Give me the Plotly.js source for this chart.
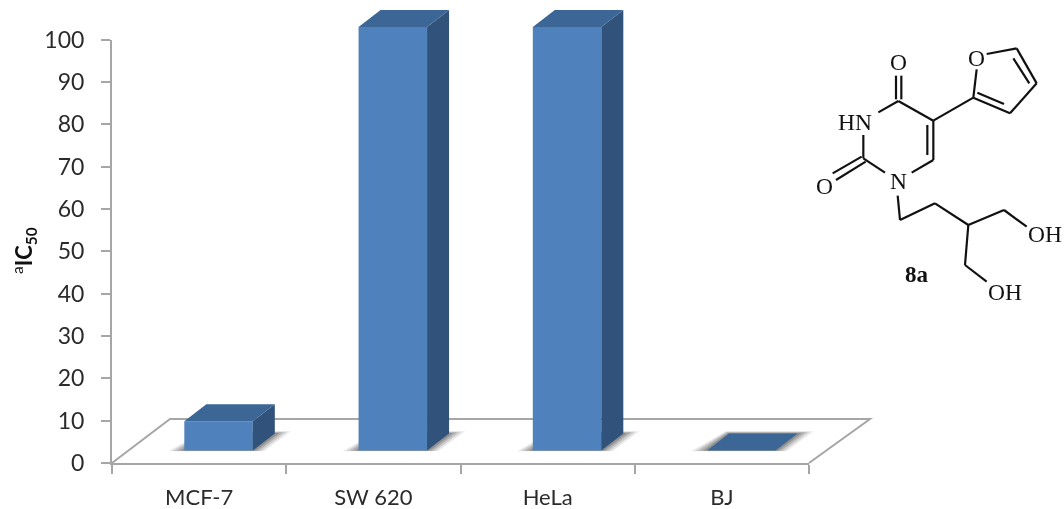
<!DOCTYPE html>
<html>
<head>
<meta charset="utf-8">
<script src="https://cdn.plot.ly/plotly-3.0.1.min.js"></script>
<style>html,body{margin:0;padding:0;background:#fff}#chart{width:1064px;height:509px;filter:blur(0.4px)}</style>
</head>
<body>
<div id="chart"></div>
<script>
// Chart data
const categories = ["MCF-7", "SW 620", "HeLa", "BJ"];
const ic50Values = [6.9, 100, 100, 0];
const yTickValues = [0, 10, 20, 30, 40, 50, 60, 70, 80, 90, 100];

// Page geometry of the axes (px)
const W = 1064, H = 509;
const axL = 112, axR = 809, axB = 463, axT = 39.5;
const pxPerCat = (axR - axL) / categories.length;
const pxPerVal = (axB - axT) / 100;

// Pseudo-3D projection expressed in axis units
const barWidth = 68.5 / pxPerCat, barOffset = -0.085;
const floorLift = 12.5 / pxPerVal;
const depthX = 22 / pxPerCat, depthY = 17 / pxPerVal;
const floorDX = 58 / pxPerCat, floorDY = 44 / pxPerVal;

const frontCol = "#4F81BD", topCol = "#3B6696", sideCol = "#30527B", axisCol = "#A6A6A6";

const shapes = [];
function poly(points, fill, layer) {
  shapes.push({
    type: "path", xref: "x2", yref: "y2", layer: layer || "above",
    path: "M" + points.map(p => p[0] + "," + p[1]).join(" L") + " Z",
    fillcolor: fill, line: { width: 0 }
  });
}

// floor outline
const fx0 = -0.5, fx1 = categories.length - 0.5;
shapes.push({
  type: "path", xref: "x2", yref: "y2", layer: "below",
  path: `M${fx0},0 L${fx0 + floorDX},${floorDY} L${fx1 + floorDX + 3 / pxPerCat},${floorDY} L${fx1},0`,
  line: { color: axisCol, width: 2 }, fillcolor: "rgba(0,0,0,0)"
});

// soft shadows on the floor, then side and top faces
categories.forEach((c, i) => {
  const L = i + barOffset, R = L + barWidth, B = floorLift, T = B + ic50Values[i];
  [[16, 0.12], [12, 0.18], [8, 0.24], [4, 0.32]].forEach(([e, a]) => {
    const ex = e / pxPerCat, ey = (e / 7) / pxPerVal;
    poly([[L - ex, B - ey * 0.3], [R + ex * 0.7, B - ey * 0.3],
          [R + depthX + ex, B + depthY + ey], [L + depthX - ex * 0.2, B + depthY + ey]],
         `rgba(80,80,80,${a})`, "below");
  });
  if (ic50Values[i] > 0) {
    poly([[R, B], [R + depthX, B + depthY], [R + depthX, T + depthY], [R, T]], sideCol);
  }
  poly([[L, T], [R, T], [R + depthX, T + depthY], [L + depthX, T + depthY]], topCol);
});

// Structure of compound 8a (page px)
const px = x => x / W, py = y => 1 - y / H;
const zx = x => 800 + x / 3, zy = y => 30 + y / 3;
const bonds = [
  [288,137,288,208],[304,137,304,208],[295,213,235,247],[295,213,400,272],[400,272,520,203],
  [400,272,400,390],[382,285,382,375],[400,390,335,428],[255,428,190,385],[190,385,190,315],
  [185,380,98,430],[197,395,108,450],[293,497,300,570],[300,570,405,520],[405,520,505,585],
  [505,585,612,540],[612,540,680,590],[505,585,495,705],[495,705,560,755],
  [520,203,530,118],[560,72,650,55],[650,55,710,160],[640,85,688,160],[710,160,630,250],
  [630,250,520,203],[612,222,532,188]
];
bonds.forEach(b => shapes.push({
  type: "line", xref: "paper", yref: "paper", layer: "above",
  x0: px(zx(b[0])), y0: py(zy(b[1])), x1: px(zx(b[2])), y1: py(zy(b[3])),
  line: { color: "#111", width: 2.2 }
}));
const atomLabels = [
  ["O",295,97],["HN",165,275],["O",72,468],["N",295,452],["O",530,85],["OH",735,612],["OH",615,785]
];
const annotations = atomLabels.map(a => ({
  text: a[0], xref: "paper", yref: "paper", x: px(zx(a[1])), y: py(zy(a[2])),
  xanchor: "center", yanchor: "middle", showarrow: false,
  font: { family: "Liberation Serif", size: 23.5, color: "#111" }
}));
annotations.push({
  text: "<b>8a</b>", xref: "paper", yref: "paper", x: px(zx(350)), y: py(zy(733)),
  xanchor: "center", yanchor: "middle", showarrow: false,
  font: { family: "Liberation Serif", size: 23, color: "#111" }
});
annotations.push({
  text: "<sup>a</sup><b>IC<sub>50</sub></b>", xref: "paper", yref: "paper", x: px(24), y: py(251),
  xanchor: "center", yanchor: "middle", textangle: -90, showarrow: false,
  font: { family: "Lato, Carlito, sans-serif", size: 22, color: "#111" }
});

const xTickFont = { family: "Lato, Carlito, sans-serif", size: 22, color: "#2b2b2b" };
const yTickFont = { family: "Lato, Carlito, sans-serif", size: 23, color: "#2b2b2b" };

Plotly.newPlot("chart", [
  { // carries the category axis
    type: "scatter", mode: "none", x: categories, y: ic50Values, xaxis: "x", yaxis: "y", hoverinfo: "skip"
  },
  {
    type: "bar", x: categories.map((c, i) => i), y: ic50Values, base: floorLift, width: barWidth, offset: barOffset,
    xaxis: "x2", yaxis: "y2", marker: { color: frontCol, line: { width: 0 } }, hoverinfo: "skip"
  }
], {
  width: W, height: H, margin: { l: 0, r: 0, t: 0, b: 0 },
  paper_bgcolor: "#fff", plot_bgcolor: "rgba(0,0,0,0)", showlegend: false,
  xaxis: {
    domain: [axL / W, axR / W], type: "category", categoryorder: "array", categoryarray: categories,
    range: [-0.5, categories.length - 0.5], tickson: "boundaries", ticks: "outside", ticklen: 9, tickwidth: 2,
    tickcolor: axisCol, showline: true, linecolor: axisCol, linewidth: 2, showgrid: false, zeroline: false,
    tickfont: xTickFont, ticklabelstandoff: 14, anchor: "y", fixedrange: true
  },
  yaxis: {
    domain: [1 - axB / H, 1 - axT / H], range: [0, 100], tickmode: "array", tickvals: yTickValues,
    ticktext: yTickValues.map(String), ticks: "outside", ticklen: 9, tickwidth: 2, tickcolor: axisCol,
    showline: true, linecolor: axisCol, linewidth: 2, showgrid: false, zeroline: false,
    tickfont: yTickFont, ticklabelstandoff: 12, anchor: "x", fixedrange: true
  },
  xaxis2: {
    domain: [0, 1], range: [-0.5 - axL / pxPerCat, -0.5 + (W - axL) / pxPerCat],
    visible: false, anchor: "y2", fixedrange: true
  },
  yaxis2: {
    domain: [0, 1], range: [-(H - axB) / pxPerVal, axB / pxPerVal],
    visible: false, anchor: "x2", fixedrange: true
  },
  shapes, annotations
}, { displayModeBar: false, staticPlot: true });
</script>
</body>
</html>
